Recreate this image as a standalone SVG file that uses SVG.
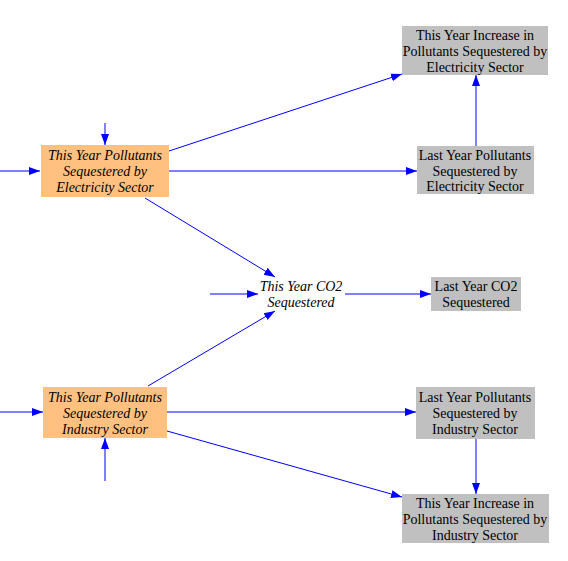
<svg xmlns="http://www.w3.org/2000/svg" width="568" height="561" viewBox="0 0 568 561">
<defs>
<marker id="ah" markerWidth="12" markerHeight="10" refX="11" refY="5" orient="auto" markerUnits="userSpaceOnUse">
<path d="M0,1 L11,5 L0,9 Z" fill="#0000FF"/>
</marker>
</defs>
<style>
.c{stroke:#0000FF;stroke-width:1;fill:none;marker-end:url(#ah)}
.t{font-family:"Liberation Serif","Times New Roman",serif;font-size:14px;fill:#000;text-anchor:middle}
.i{font-style:italic}
.g{fill:#C0C0C0}
.o{fill:#FFC080}
</style>
<rect width="568" height="561" fill="#fff"/>
<g id="connectors">
<line class="c" x1="0" y1="171" x2="40" y2="171"/>
<line class="c" x1="105" y1="123" x2="105" y2="145"/>
<line class="c" x1="169" y1="151" x2="402" y2="74"/>
<line class="c" x1="169" y1="171" x2="417" y2="171"/>
<line class="c" x1="145" y1="198" x2="275" y2="277"/>
<line class="c" x1="210" y1="294" x2="258" y2="294"/>
<line class="c" x1="345" y1="294" x2="431" y2="294"/>
<line class="c" x1="148" y1="386" x2="275" y2="311"/>
<line class="c" x1="0" y1="412" x2="43" y2="412"/>
<line class="c" x1="105" y1="481" x2="105" y2="438"/>
<line class="c" x1="167" y1="412" x2="416" y2="412"/>
<line class="c" x1="167" y1="431" x2="402" y2="497"/>
<line class="c" x1="476" y1="146" x2="476" y2="75"/>
<line class="c" x1="476" y1="439" x2="476" y2="494"/>
</g>
<g id="elec">
<rect class="o" x="41" y="145" width="128" height="52"/>
<text class="t i" x="105" y="160">This Year Pollutants</text>
<text class="t i" x="105" y="176">Sequestered by</text>
<text class="t i" x="105" y="192">Electricity Sector</text>
</g>
<g id="incElec">
<rect class="g" x="402" y="26" width="146" height="49"/>
<text class="t" x="475" y="40">This Year Increase in</text>
<text class="t" x="475" y="56">Pollutants Sequestered by</text>
<text class="t" x="475" y="72">Electricity Sector</text>
</g>
<g id="lastElec">
<rect class="g" x="417" y="146" width="117" height="48"/>
<text class="t" x="475" y="160">Last Year Pollutants</text>
<text class="t" x="475" y="176">Sequestered by</text>
<text class="t" x="475" y="191">Electricity Sector</text>
</g>
<g id="co2">
<text class="t i" x="301" y="291">This Year CO2</text>
<text class="t i" x="301" y="307">Sequestered</text>
</g>
<g id="lastCO2">
<rect class="g" x="431" y="277" width="90" height="34"/>
<text class="t" x="476" y="291">Last Year CO2</text>
<text class="t" x="476" y="307">Sequestered</text>
</g>
<g id="ind">
<rect class="o" x="43" y="387" width="124" height="51"/>
<text class="t i" x="105" y="402">This Year Pollutants</text>
<text class="t i" x="105" y="418">Sequestered by</text>
<text class="t i" x="105" y="434">Industry Sector</text>
</g>
<g id="lastInd">
<rect class="g" x="416" y="387" width="119" height="52"/>
<text class="t" x="475" y="402">Last Year Pollutants</text>
<text class="t" x="475" y="418">Sequestered by</text>
<text class="t" x="475" y="434">Industry Sector</text>
</g>
<g id="incInd">
<rect class="g" x="402" y="494" width="147" height="49"/>
<text class="t" x="475" y="508">This Year Increase in</text>
<text class="t" x="475" y="524">Pollutants Sequestered by</text>
<text class="t" x="475" y="540">Industry Sector</text>
</g>
</svg>
